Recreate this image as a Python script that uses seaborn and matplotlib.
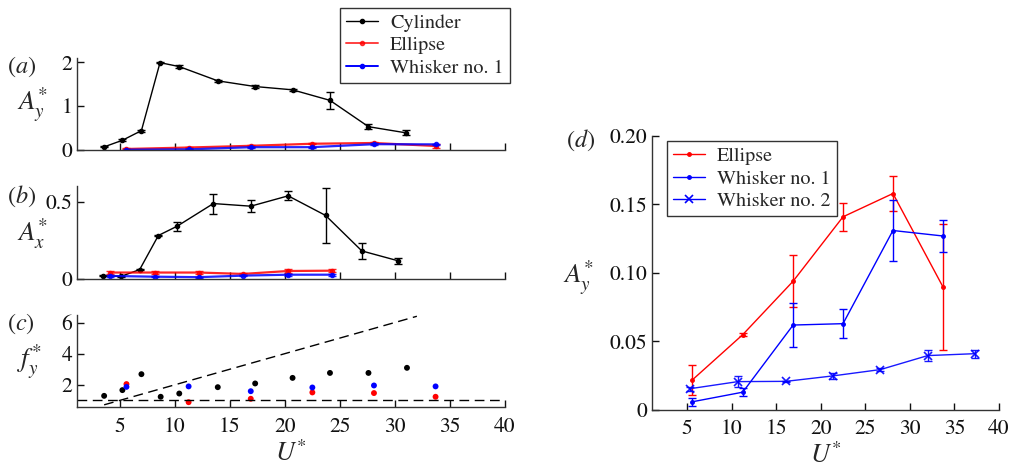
import numpy as np
import pandas as pd
import matplotlib
matplotlib.use("Agg")
import matplotlib.pyplot as plt
from matplotlib.lines import Line2D
import seaborn as sns

# ---------------- data ----------------
# (a) A_y* vs U*
cyl_a_u = [3.57, 5.23, 6.96, 8.65, 10.4, 13.9, 17.3, 20.7, 24.1, 27.6, 31.0]
cyl_a_y = [0.07, 0.22, 0.44, 1.99, 1.90, 1.575, 1.445, 1.37, 1.13, 0.53, 0.39]
cyl_a_e = [0.01, 0.02, 0.02, 0.01, 0.03, 0.02, 0.04, 0.03, 0.2, 0.06, 0.06]

ell_u = [5.6, 11.25, 16.9, 22.5, 28.1, 33.7]
ell_y = [0.022, 0.055, 0.094, 0.141, 0.158, 0.090]
ell_e = [0.011, 0.001, 0.019, 0.010, 0.0125, 0.046]

wh1_u = [5.6, 11.25, 16.9, 22.5, 28.1, 33.7]
wh1_y = [0.006, 0.013, 0.062, 0.063, 0.131, 0.127]
wh1_e = [0.003, 0.003, 0.016, 0.0107, 0.0225, 0.012]

wh2_u = [5.3, 10.7, 16.1, 21.4, 26.7, 32.0, 37.3]
wh2_y = [0.0155, 0.0207, 0.0209, 0.0249, 0.0295, 0.0397, 0.0411]
wh2_e = [0.0015, 0.004, 0.0005, 0.002, 0.001, 0.004, 0.003]

# (b) A_x* vs U*
cyl_b_u = [3.5, 5.1, 6.8, 8.5, 10.2, 13.5, 16.9, 20.3, 23.7, 27.0, 30.3]
cyl_b_x = [0.02, 0.015, 0.059, 0.28, 0.34, 0.487, 0.47, 0.537, 0.41, 0.18, 0.116]
cyl_b_e = [0.004, 0.005, 0.005, 0.005, 0.03, 0.065, 0.04, 0.03, 0.18, 0.05, 0.02]

ellwh_b_u = [4.1, 8.2, 12.2, 16.2, 20.3, 24.3]
ell_b_x = [0.040, 0.040, 0.040, 0.031, 0.050, 0.052]
ell_b_e = [0.010, 0.012, 0.010, 0.006, 0.012, 0.010]
wh1_b_x = [0.018, 0.013, 0.010, 0.020, 0.026, 0.026]
wh1_b_e = [0.004, 0.004, 0.004, 0.004, 0.006, 0.006]

# (c) f_y* vs U*
cyl_c_u = [3.57, 5.23, 6.96, 8.71, 10.4, 13.9, 17.3, 20.7, 24.1, 27.6, 31.1]
cyl_c_f = [1.29, 1.66, 2.69, 1.23, 1.44, 1.85, 2.09, 2.45, 2.77, 2.77, 3.10]
ell_c_f = [2.05, 0.88, 1.10, 1.51, 1.47, 1.23]
wh1_c_f = [1.87, 1.90, 1.59, 1.83, 1.96, 1.90]
st_u = [3.57, 32.0]
st_f = [0.71, 6.43]
fn_u = [1.1, 40.0]
fn_f = [1.0, 1.0]

xticks = [5, 10, 15, 20, 25, 30, 35, 40]

# ---------------- style ----------------
sns.set_theme(style="ticks")
plt.rcParams["font.family"] = ["STIXGeneral", "Liberation Serif", "DejaVu Serif"]
plt.rcParams["mathtext.fontset"] = "stix"
plt.rcParams["axes.edgecolor"] = "#333333"
plt.rcParams["axes.linewidth"] = 1.0

FS = 15.5
LFS = 14.5
RED = "#ff0000"
BLUE = "#0000ff"

fig = plt.figure(figsize=(10.14, 4.70), dpi=100)
ax_a = fig.add_axes([0.0759, 0.681, 0.422, 0.196])
ax_b = fig.add_axes([0.0759, 0.407, 0.422, 0.197])
ax_c = fig.add_axes([0.0759, 0.1334, 0.422, 0.196])
ax_d = fig.add_axes([0.6433, 0.1277, 0.3419, 0.583])


def series(ax, u, v, err, color, marker="o", ms=3, lw=1.0, mew=1.0, alpha=1.0, cap=3):
    df = pd.DataFrame({"u": u, "v": v})
    sns.lineplot(data=df, x="u", y="v", ax=ax, color=color, marker=marker,
                 markersize=ms, markeredgecolor=color, markeredgewidth=mew,
                 linewidth=lw, sort=False, errorbar=None, alpha=alpha)
    ax.errorbar(u, v, yerr=err, fmt="none", ecolor=color, elinewidth=1.0,
                capsize=cap, capthick=1.0, alpha=alpha)


def style(ax, xlim, ylim, yticks, ylabels, show_x):
    ax.set_xlim(*xlim)
    ax.set_ylim(*ylim)
    ax.set_xticks(xticks)
    ax.set_yticks(yticks)
    ax.set_yticklabels(ylabels)
    if not show_x:
        ax.set_xticklabels([])
    ax.tick_params(direction="in", length=5, width=1, labelsize=FS, colors="#111111")
    ax.tick_params(axis="x", pad=7)
    ax.set_xlabel("")
    ax.set_ylabel("")
    sns.despine(ax=ax)


# (a)
series(ax_a, cyl_a_u, cyl_a_y, cyl_a_e, "black")
series(ax_a, ell_u, ell_y, ell_e, RED, alpha=0.85, lw=1.6)
series(ax_a, wh1_u, wh1_y, wh1_e, BLUE, alpha=0.85, lw=1.6)
style(ax_a, (1.1, 40), (0, 2.1), [0, 1, 2], ["0", "1", "2"], False)

# (b)
series(ax_b, cyl_b_u, cyl_b_x, cyl_b_e, "black")
series(ax_b, ellwh_b_u, ell_b_x, ell_b_e, RED, alpha=0.85, lw=1.6)
series(ax_b, ellwh_b_u, wh1_b_x, wh1_b_e, BLUE, alpha=0.85, lw=1.6)
style(ax_b, (1.1, 40), (0, 0.6), [0, 0.5], ["0", "0.5"], False)

# (c)
sns.lineplot(x=st_u, y=st_f, ax=ax_c, color="black", linewidth=1.0, sort=False)
ax_c.lines[-1].set_linestyle((0, (7, 4)))
sns.lineplot(x=fn_u, y=fn_f, ax=ax_c, color="black", linewidth=1.0, sort=False)
ax_c.lines[-1].set_linestyle((0, (7, 4)))
sns.scatterplot(x=cyl_c_u, y=cyl_c_f, ax=ax_c, color="black", s=18, edgecolor="none")
sns.scatterplot(x=ell_u, y=ell_c_f, ax=ax_c, color=RED, s=18, edgecolor="none")
sns.scatterplot(x=wh1_u, y=wh1_c_f, ax=ax_c, color=BLUE, s=18, edgecolor="none")
style(ax_c, (1.1, 40), (0.55, 6.5), [2, 4, 6], ["2", "4", "6"], True)
ax_c.set_xticklabels([str(t) for t in xticks])
ax_c.set_xlabel("$U^{*}$", fontsize=19, labelpad=3)

# (d)
series(ax_d, ell_u, ell_y, ell_e, RED, ms=2.5)
series(ax_d, wh1_u, wh1_y, wh1_e, BLUE, ms=2.5)
series(ax_d, wh2_u, wh2_y, wh2_e, BLUE, marker="x", ms=6, mew=1.2, alpha=0.9)
style(ax_d, (1.1, 40), (0, 0.2), [0, 0.05, 0.10, 0.15, 0.20],
      ["0", "0.05", "0.10", "0.15", "0.20"], True)
ax_d.set_xticklabels([str(t) for t in xticks])
ax_d.set_xlabel("$U^{*}$", fontsize=19, labelpad=3)

# panel labels
fig.text(0.007, 0.858, "($a$)", fontsize=FS + 2, ha="left", va="center")
fig.text(0.017, 0.778, "$A_y^{*}$", fontsize=FS + 4, ha="left", va="center")
fig.text(0.007, 0.582, "($b$)", fontsize=FS + 2, ha="left", va="center")
fig.text(0.017, 0.503, "$A_x^{*}$", fontsize=FS + 4, ha="left", va="center")
fig.text(0.007, 0.312, "($c$)", fontsize=FS + 2, ha="left", va="center")
fig.text(0.017, 0.232, "$f_y^{*}$", fontsize=FS + 4, ha="left", va="center")
fig.text(0.558, 0.702, "($d$)", fontsize=FS + 2, ha="left", va="center")
fig.text(0.555, 0.41, "$A_y^{*}$", fontsize=FS + 4, ha="left", va="center")

# legends
h_a = [Line2D([], [], color="black", marker="o", ms=3, lw=1.0),
       Line2D([], [], color=RED, marker="o", ms=3, lw=1.4, alpha=0.75),
       Line2D([], [], color=BLUE, marker="o", ms=3, lw=1.4)]
fig.legend(h_a, ["Cylinder", "Ellipse", "Whisker no. 1"], loc="upper left",
           bbox_to_anchor=(0.335, 0.984), fontsize=LFS, frameon=True, fancybox=False,
           edgecolor="#333333", framealpha=1, handlelength=1.6, handletextpad=0.6,
           borderpad=0.3, labelspacing=0.22, borderaxespad=0)

h_d = [Line2D([], [], color=RED, marker="o", ms=2.5, lw=1.0),
       Line2D([], [], color=BLUE, marker="o", ms=2.5, lw=1.0),
       Line2D([], [], color=BLUE, marker="x", ms=6, mew=1.2, lw=1.0)]
fig.legend(h_d, ["Ellipse", "Whisker no. 1", "Whisker no. 2"], loc="upper left",
           bbox_to_anchor=(0.6575, 0.70), fontsize=LFS, frameon=True, fancybox=False,
           edgecolor="#333333", framealpha=1, handlelength=1.6, handletextpad=0.6,
           borderpad=0.3, labelspacing=0.22, borderaxespad=0)

fig.savefig("out.png", dpi=100)
